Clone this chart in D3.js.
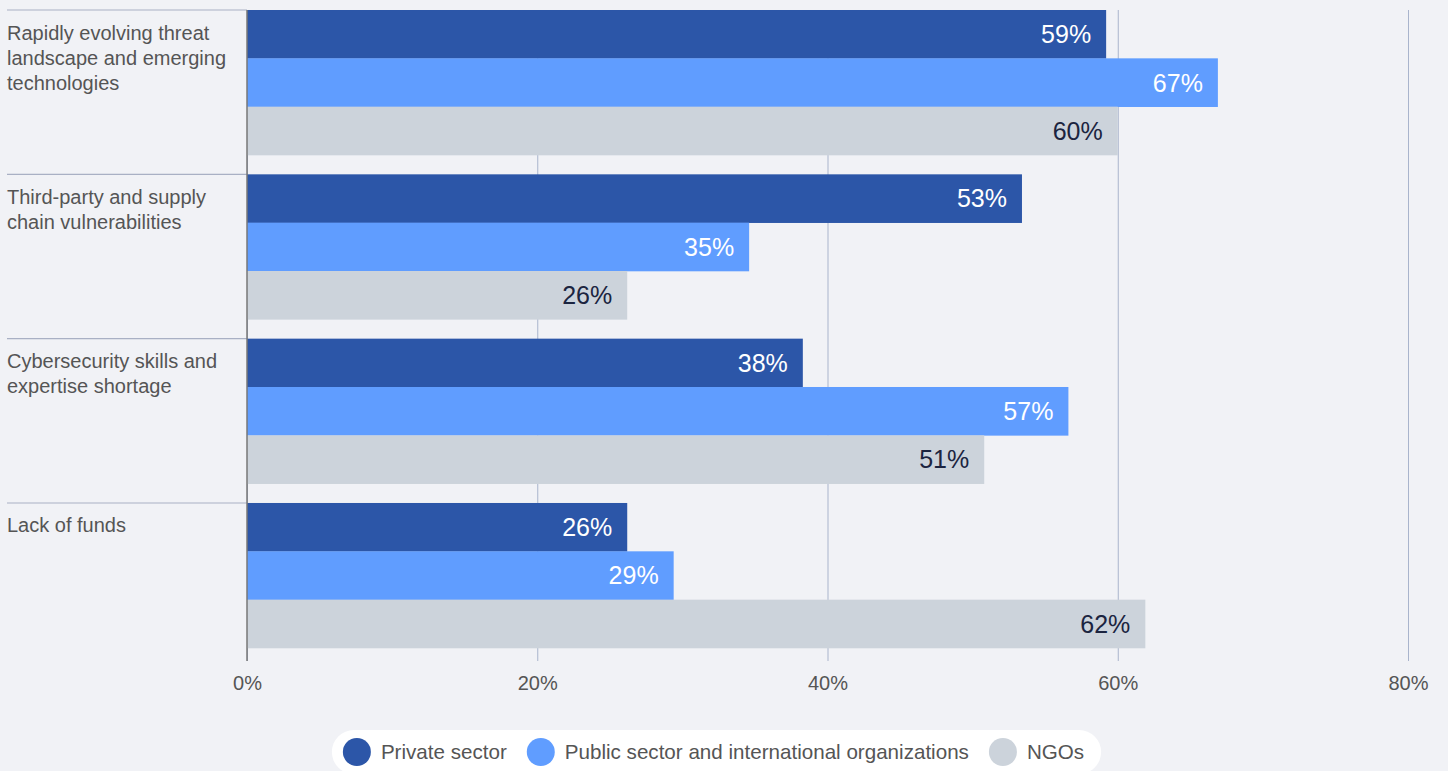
<!DOCTYPE html>
<html>
<head>
<meta charset="utf-8">
<script src="https://cdn.jsdelivr.net/npm/d3@7"></script>
<style>
body { margin: 0; background: #f1f2f6; }
svg { display: block; font-family: "Liberation Sans", Arial, sans-serif; }
</style>
</head>
<body>
<div id="chart"></div>
<script>
// data
const categories = ["threat", "supply", "skills", "funds"];
const categoryLines = [
	["Rapidly evolving threat", "landscape and emerging", "technologies"],
	["Third-party and supply", "chain vulnerabilities"],
	["Cybersecurity skills and", "expertise shortage"],
	["Lack of funds"]
];
const seriesNames = ["Private sector", "Public sector and international organizations", "NGOs"];
const privateSector = [59.2, 53.4, 38.3, 26.2];
const publicSector = [66.9, 34.6, 56.6, 29.4];
const ngos = [60.0, 26.2, 50.8, 61.9];
const xTicks = [0, 20, 40, 60, 80];

const colors = ["#2c56a8", "#609dff", "#ccd3db"];
const labelColors = ["#ffffff", "#ffffff", "#1b2440"];

const width = 1448, height = 771;
const series = [privateSector, publicSector, ngos];

var x = d3.scaleLinear()
	.domain([0, 80])
	.range([247, 1408]);

var y = d3.scaleBand()
	.domain(categories)
	.range([10, 648])
	.paddingInner(0.1175);

var yInner = d3.scaleBand()
	.domain(seriesNames)
	.range([0, y.bandwidth()]);

var svg = d3.select("#chart").append("svg")
	.attr("width", width)
	.attr("height", height);

// grid + tick labels
var axis = svg.append("g")
	.attr("transform", "translate(0,661)")
	.call(d3.axisBottom(x)
		.tickValues(xTicks)
		.tickFormat(d => d + "%")
		.tickSize(-651)
		.tickPadding(15));
axis.select(".domain").remove();
axis.selectAll(".tick line")
	.attr("stroke", "#a9b4cc")
	.attr("stroke-width", 1);
axis.selectAll(".tick text")
	.attr("font-family", "'Liberation Sans', Arial, sans-serif")
	.attr("font-size", 20)
	.attr("fill", "#555");

// category separators and labels
var cats = svg.append("g")
	.selectAll("g")
	.data(categories)
	.join("g")
		.attr("transform", d => `translate(0,${y(d)})`);

cats.append("line")
	.attr("x1", 7)
	.attr("x2", x(0))
	.attr("stroke", "#a9b0c4")
	.attr("stroke-width", 1.2);

cats.append("text")
	.attr("fill", "#555")
	.attr("font-size", 20)
	.selectAll("tspan")
	.data((d, i) => categoryLines[i])
	.join("tspan")
		.attr("x", 7)
		.attr("y", (d, i) => 29.5 + i * 25)
		.text(d => d);

// bars
var fmt = d3.format(".0f");
var groups = svg.append("g")
	.selectAll("g")
	.data(categories)
	.join("g")
		.attr("transform", d => `translate(0,${y(d)})`);

groups.selectAll("rect")
	.data((d, i) => series.map((s, j) => ({ name: seriesNames[j], k: j, value: s[i] })))
	.join("rect")
		.attr("x", x(0))
		.attr("y", d => yInner(d.name))
		.attr("width", d => x(d.value) - x(0))
		.attr("height", yInner.bandwidth() + 0.3)
		.attr("fill", d => colors[d.k]);

groups.selectAll("text")
	.data((d, i) => series.map((s, j) => ({ name: seriesNames[j], k: j, value: s[i] })))
	.join("text")
		.attr("x", d => x(d.value) - 15)
		.attr("y", d => yInner(d.name) + yInner.bandwidth() / 2)
		.attr("dy", "0.36em")
		.attr("text-anchor", "end")
		.attr("font-size", 25)
		.attr("fill", d => labelColors[d.k])
		.text(d => fmt(d.value) + "%");

// zero line on top
svg.append("line")
	.attr("x1", x(0)).attr("x2", x(0))
	.attr("y1", 10).attr("y2", 661)
	.attr("stroke", "#777")
	.attr("stroke-width", 1.5);

// legend
var legend = svg.append("g");
var pill = legend.append("rect")
	.attr("fill", "#ffffff");
var items = legend.selectAll("g")
	.data(seriesNames)
	.join("g");
items.append("circle")
	.attr("r", 14)
	.attr("cy", 752)
	.attr("fill", (d, i) => colors[i]);
items.append("text")
	.attr("y", 752)
	.attr("dy", "0.35em")
	.attr("font-size", 20.6)
	.attr("fill", "#555")
	.text(d => d);

var cursor = 0;
items.each(function(d, i) {
	var g = d3.select(this);
	var tw = g.select("text").node().getComputedTextLength();
	g.select("circle").attr("cx", cursor + 14);
	g.select("text").attr("x", cursor + 38);
	cursor += 38 + tw + (i < seriesNames.length - 1 ? 20 : 0);
});
var padL = 11, padR = 17;
var total = padL + cursor + padR;
var left = 716.5 - total / 2;
items.attr("transform", `translate(${left + padL},0)`);
pill.attr("x", left).attr("y", 730)
	.attr("width", total).attr("height", 44)
	.attr("rx", 22);
</script>
</body>
</html>
